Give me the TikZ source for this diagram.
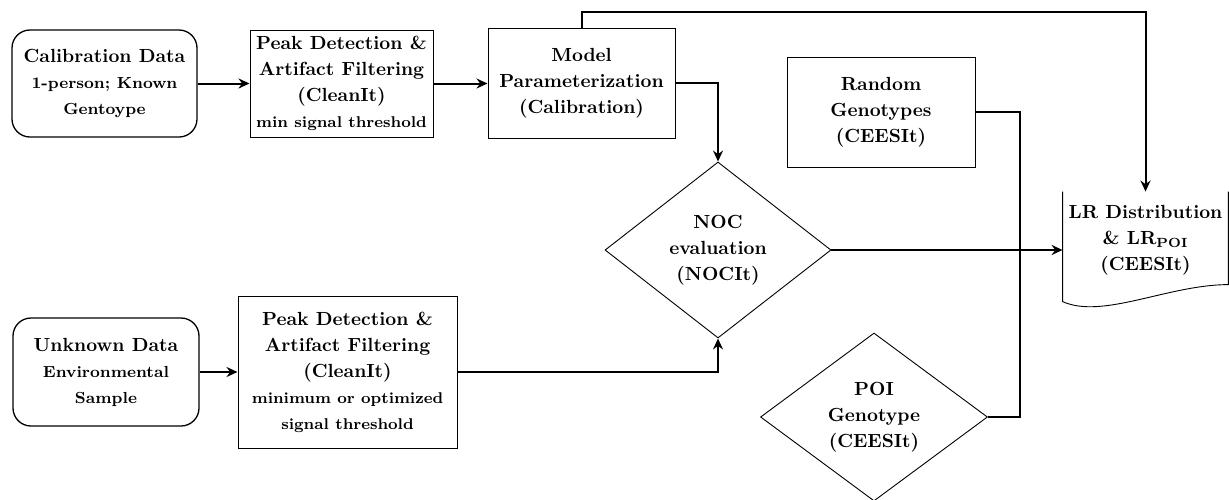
\documentclass[tikz,border=0pt]{standalone}
\usepackage{fontspec}
\usetikzlibrary{positioning,calc,arrows.meta,shapes.geometric}

\newcommand{\lblmain}{\fontsize{9.5}{13}\selectfont\bfseries}
\newcommand{\lblsub}{\fontsize{8}{11}\selectfont\bfseries}
\newcommand{\lblsmall}{\fontsize{7.8}{11}\selectfont\bfseries}

\begin{document}
\begin{tikzpicture}[
    x=0.5pt, y=0.5pt,
    box/.style={draw, line width=0.5pt, align=center, inner sep=2pt, font=\lblmain},
    databox/.style={box, rounded corners=9pt, line width=0.65pt},
    decision/.style={draw, shape=diamond, line width=0.45pt, inner sep=0pt, align=center, font=\lblmain},
    conn/.style={line width=1pt, -{Stealth[length=5.5pt, width=5pt, inset=1.8pt]}},
    link/.style={line width=1pt}
]

\useasboundingbox (0,0) rectangle (1229,-499);

% Calibration branch (top row)
\node[databox, minimum width=92.5pt, minimum height=53.5pt] (cal) at (104.5,-83.5)
    {Calibration Data\\\lblsub 1-person; Known\\\lblsub Gentoype};
\node[box, minimum width=91.5pt, minimum height=53.5pt] (peak1) at (341.5,-83.5)
    {Peak Detection \&\\Artifact Filtering\\(CleanIt)\\\lblsmall min signal threshold};
\node[box, minimum width=93.5pt, minimum height=55pt] (model) at (581.5,-83)
    {Model\\Parameterization\\(Calibration)};

% Unknown branch (bottom row)
\node[databox, minimum width=93pt, minimum height=54pt] (unk) at (106,-372)
    {Unknown Data\\\lblsub Environmental\\\lblsub Sample};
\node[box, minimum width=109.5pt, minimum height=76pt] (peak2) at (347.5,-372)
    {Peak Detection \&\\Artifact Filtering\\(CleanIt)\\\lblsmall minimum or optimized\\\lblsmall signal threshold};

% Decisions
\node[decision, minimum width=113pt, minimum height=88pt] (noc) at (718,-250)
    {NOC\\evaluation\\(NOCIt)};
\node[decision, minimum width=113.5pt, minimum height=84pt] (poi) at (874,-417)
    {POI\\Genotype\\(CEESIt)};

% Genotypes and result
\node[box, minimum width=94pt, minimum height=55pt] (rand) at (881,-112)
    {Random\\Genotypes\\(CEESIt)};
\node[inner sep=0pt, minimum width=82.5pt, minimum height=48pt, align=center, font=\lblmain] (lr) at (1145.5,-240)
    {LR Distribution\\\& LR\textsubscript{POI}\\(CEESIt)};
\draw[line width=0.45pt] (lr.north west) -- ++(0,-110)
    .. controls +(40,-18) and +(-60,0) .. ($(lr.north east)+(0,-93)$) -- (lr.north east);

% Arrows
\draw[conn] (cal.east) -- (cal.east -| peak1.west);
\draw[conn] (peak1.east) -- (peak1.east -| model.west);
\draw[conn] (model.east) -| (noc.north);
\draw[conn] (model.north) -- ++(0,16) -| (lr.north);
\draw[conn] (unk.east) -- (unk.east -| peak2.west);
\draw[conn] (peak2.east) -| (noc.south);
\draw[conn] (noc.east) -- (noc.east -| lr.west);
\draw[link] (rand.east) -- ++(44,0) |- (poi.east);

\end{tikzpicture}
\end{document}
